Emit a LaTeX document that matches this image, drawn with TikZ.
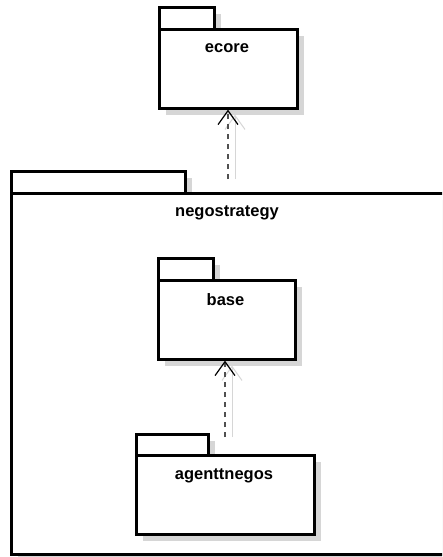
\documentclass[tikz,border=0pt]{standalone}
\usepackage{fontspec}
\setmainfont{Liberation Sans}
\usetikzlibrary{arrows.meta,shadows}
\definecolor{shadowgray}{HTML}{D6D6D6}
\definecolor{depgray}{HTML}{505050}
\begin{document}
\begin{tikzpicture}[x=1pt,y=-1pt,
  pkg/.style={draw=black, line width=2.6pt, fill=white, inner sep=0pt, anchor=north west,
    drop shadow={shadow xshift=7pt, shadow yshift=-7pt, fill=shadowgray, opacity=1}},
  pkgtitle/.style={font=\bfseries\fontsize{16.5}{18}\selectfont, inner sep=0pt, anchor=center},
  dep/.style={draw=depgray, line width=1.5pt, dash pattern=on 5pt off 5pt,
    -{Straight Barb[length=14pt,width=20pt,line width=1.2pt,color=black]}},
  depshadow/.style={draw=shadowgray, line width=1pt,
    -{Straight Barb[length=14pt,width=20pt,line width=1pt]}}
]
\useasboundingbox (0,0) rectangle (442,557);
\clip (0,0) rectangle (442,557);

% outer package negostrategy (runs past the right edge)
\node[pkg, minimum width=174pt, minimum height=22pt] (negotab) at (10,170) {};
\node[pkg, minimum width=460pt, minimum height=361pt] (nego) at (10,192) {};
\node[pkgtitle] (negolbl) at (227,213) {negostrategy};

% package ecore
\node[pkg, minimum width=55pt, minimum height=22pt] (ecoretab) at (158,6) {};
\node[pkg, minimum width=138pt, minimum height=79pt] (ecore) at (158,28) {};
\node[pkgtitle] (ecorelbl) at (227,48) {ecore};

% package base
\node[pkg, minimum width=55pt, minimum height=22pt] (basetab) at (157,257) {};
\node[pkg, minimum width=137pt, minimum height=79pt] (base) at (157,279) {};
\node[pkgtitle] (baselbl) at (225.5,300) {base};

% package agenttnegos
\node[pkg, minimum width=72pt, minimum height=21pt] (agenttab) at (135,433) {};
\node[pkg, minimum width=178pt, minimum height=79pt] (agent) at (135,454) {};
\node[pkgtitle] (agentlbl) at (224,476) {agenttnegos};

% dependency: negostrategy -> ecore
\coordinate (dep1s) at (228,179);
\draw[depshadow] ([xshift=7pt]dep1s) -- ([xshift=7pt,yshift=-5pt]ecore.south -| dep1s);
\draw[dep] (dep1s) -- (ecore.south -| dep1s);

% dependency: agenttnegos -> base
\coordinate (dep2s) at (225,437);
\draw[depshadow] ([xshift=7pt]dep2s) -- ([xshift=7pt,yshift=-5pt]base.south -| dep2s);
\draw[dep] (dep2s) -- (base.south -| dep2s);
\end{tikzpicture}
\end{document}
